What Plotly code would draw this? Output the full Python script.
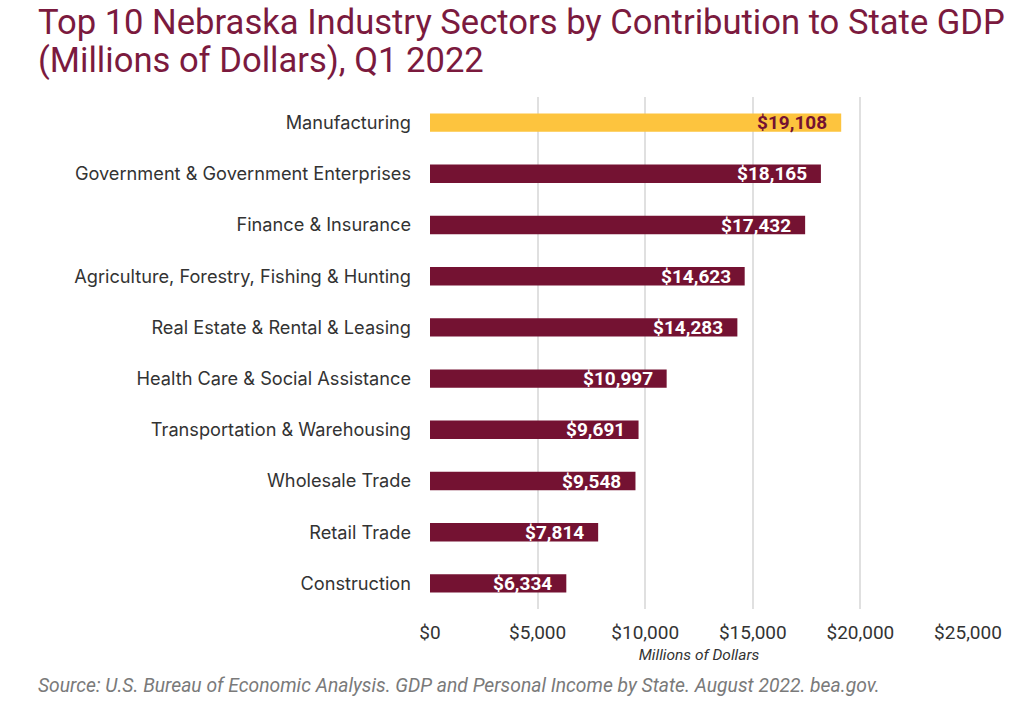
import plotly.graph_objects as go

categories = ["Manufacturing", "Government & Government Enterprises", "Finance & Insurance",
              "Agriculture, Forestry, Fishing & Hunting", "Real Estate & Rental & Leasing",
              "Health Care & Social Assistance", "Transportation & Warehousing",
              "Wholesale Trade", "Retail Trade", "Construction"]
values = [19108, 18165, 17432, 14623, 14283, 10997, 9691, 9548, 7814, 6334]
tick_vals = [0, 5000, 10000, 15000, 20000, 25000]
tick_text = ["$0", "$5,000", "$10,000", "$15,000", "$20,000", "$25,000"]

MAROON = "#741232"
GOLD = "#FDC43E"
TITLE_COLOR = "#7B1A3E"
colors = [GOLD] + [MAROON] * (len(values) - 1)
label_colors = [MAROON] + ["white"] * (len(values) - 1)

W, H = 1019, 701
L, R, T, B = 430, 51, 97, 92
PW, PH = W - L - R, H - T - B


def px_x(x):
    return (x - L) / PW


def px_y(y):
    return (H - B - y) / PH


fig = go.Figure(go.Bar(
    x=values, y=categories, orientation="h",
    marker=dict(color=colors, line=dict(width=0)),
    width=0.36, hoverinfo="skip",
))

for c, v, lc in zip(categories, values, label_colors):
    fig.add_annotation(x=v, y=c, text=f"${v:,}", xanchor="right", xshift=-12,
                       showarrow=False,
                       font=dict(family="Roboto", size=19, color=lc, weight="bold"))

fig.add_annotation(xref="paper", yref="paper", x=px_x(36), y=px_y(22),
                   text="Top 10 Nebraska Industry Sectors by Contribution to State GDP",
                   showarrow=False, xanchor="left", yanchor="middle",
                   font=dict(family="Roboto", size=34.6, color=TITLE_COLOR))
fig.add_annotation(xref="paper", yref="paper", x=px_x(36), y=px_y(60),
                   text="(Millions of Dollars), Q1 2022",
                   showarrow=False, xanchor="left", yanchor="middle",
                   font=dict(family="Roboto", size=34.6, color=TITLE_COLOR))
fig.add_annotation(xref="paper", yref="paper", x=px_x(36), y=px_y(685),
                   text="Source: U.S. Bureau of Economic Analysis. GDP and Personal Income by State. August 2022. bea.gov.",
                   showarrow=False, xanchor="left", yanchor="middle",
                   font=dict(family="Roboto", size=19.3, color="#7a7a7a", style="italic"))

fig.update_layout(
    width=W, height=H,
    margin=dict(l=L, r=R, t=T, b=B),
    paper_bgcolor="white", plot_bgcolor="white",
    showlegend=False,
    xaxis=dict(range=[0, 25000], tickvals=tick_vals, ticktext=tick_text,
               showgrid=True, gridcolor="#e0e0e0", gridwidth=1.5, zeroline=False,
               showline=False, ticks="", ticklabelstandoff=10,
               tickfont=dict(family="Roboto", size=19, color="#333333"),
               title=dict(text="Millions of Dollars", standoff=6,
                          font=dict(family="Roboto", size=15.5, color="#333333", style="italic"))),
    yaxis=dict(autorange="reversed", showgrid=False, zeroline=False, ticks="",
               ticklabelstandoff=18,
               tickfont=dict(family="Inter", size=18.2, color="#333333")),
)

fig.write_html("out.html")
